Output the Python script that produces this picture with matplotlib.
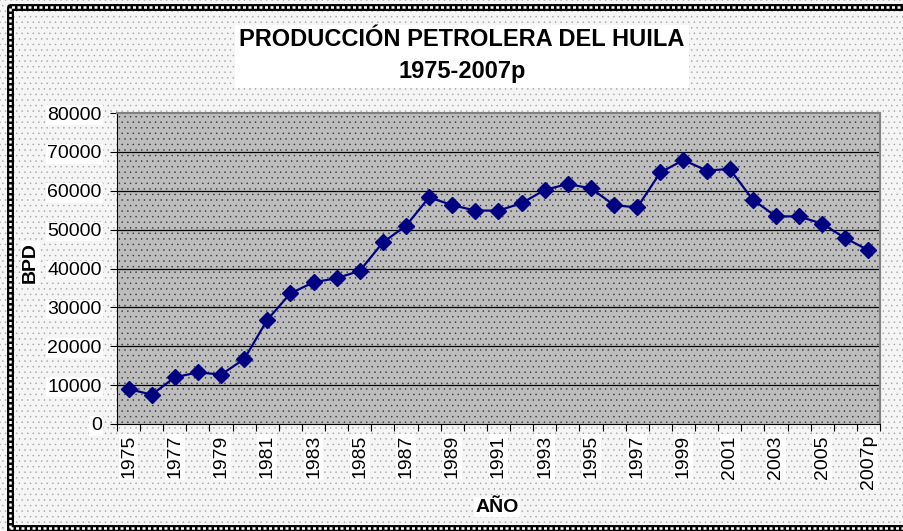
import numpy as np
import matplotlib
matplotlib.use('Agg')
import matplotlib.pyplot as plt
from matplotlib.patches import Rectangle
from matplotlib.lines import Line2D

plt.rcParams['font.family'] = ['Liberation Sans', 'DejaVu Sans']
plt.rcParams['hatch.linewidth'] = 0.3

# Datos: producción de petróleo del Huila (BPD)
anios = ['1975', '1976', '1977', '1978', '1979', '1980', '1981', '1982', '1983',
         '1984', '1985', '1986', '1987', '1988', '1989', '1990', '1991', '1992',
         '1993', '1994', '1995', '1996', '1997', '1998', '1999', '2000', '2001',
         '2002', '2003', '2004', '2005', '2006', '2007p']
bpd = [9000, 7550, 12000, 13300, 12700, 16700, 26800, 33600, 36450, 37500,
       39400, 46700, 51000, 58300, 56300, 54900, 54900, 56800, 60200, 61750,
       60600, 56300, 55700, 64700, 67900, 65200, 65600, 57700, 53400, 53400,
       51500, 47800, 44700]
y_ticks = [0, 10000, 20000, 30000, 40000, 50000, 60000, 70000, 80000]

W, H = 904, 531
fig = plt.figure(figsize=(W / 100, H / 100), dpi=100)
fig.patch.set_facecolor('#f5f5f5')
fig.patch.set_edgecolor('none')
fig.patch.set_linewidth(0)

# fondo punteado de la figura
fondo = Rectangle((0, 0), 1, 1, transform=fig.transFigure, facecolor='none',
                  edgecolor='#a0a0a0', hatch='...', linewidth=0, zorder=-10)
fig.patches.append(fondo)

ax = fig.add_axes([117 / W, 1 - 424 / H, (880 - 117) / W, (424 - 113) / H])
ax.set_facecolor('#bdbdbd')
ax.add_patch(Rectangle((0, 0), 1, 1, transform=ax.transAxes, facecolor='none',
                       edgecolor='#303030', hatch='...', linewidth=0, zorder=0))

x = np.arange(len(anios))
ax.plot(x, bpd, color='#000080', linewidth=1.6, marker='D', markersize=8,
        markerfacecolor='#000080', markeredgecolor='#000080', zorder=5)

ax.set_ylim(0, 80000)
ax.set_xlim(-0.5, len(anios) - 0.5)
ax.set_yticks(y_ticks)
ax.set_yticklabels([str(v) for v in y_ticks], fontsize=14)
for v in y_ticks[1:-1]:
    ax.axhline(v, color='black', linewidth=0.9, zorder=2)

# marcas entre categorías, etiquetas cada dos años
ax.set_xticks(np.arange(-0.5, len(anios), 1))
ax.set_xticklabels([])
ax.set_xticks(x[::2], minor=True)
ax.set_xticklabels(anios[::2], minor=True, rotation=90, fontsize=14)
ax.tick_params(axis='x', which='major', length=5, direction='out', color='black')
ax.tick_params(axis='x', which='minor', length=0, pad=8)
ax.tick_params(axis='y', length=5, direction='out', pad=6)

for lab in ax.get_yticklabels() + ax.get_xticklabels(minor=True):
    lab.set_bbox(dict(facecolor='white', edgecolor='none', pad=1))

for s in ['top', 'right']:
    ax.spines[s].set_color('#808080')
    ax.spines[s].set_linewidth(1.5)
ax.spines['left'].set_color('black')
ax.spines['bottom'].set_color('black')

ax.set_ylabel('BPD', fontsize=14, fontweight='bold',
              bbox=dict(facecolor='white', edgecolor='none', pad=1))
ax.yaxis.set_label_coords((39 - 117) / (880 - 117), (424 - 263) / (424 - 113))
fig.text(497 / W, 1 - 507 / H, 'AÑO', fontsize=14, fontweight='bold',
         ha='center', va='center',
         bbox=dict(facecolor='white', edgecolor='none', pad=1))

# título con recuadro blanco
fig.patches.append(Rectangle((235 / W, 1 - 88 / H), (689 - 235) / W, (88 - 25) / H,
                             transform=fig.transFigure, facecolor='white',
                             edgecolor='none', zorder=1))
fig.text(462 / W, 1 - 39 / H, 'PRODUCCIÓN PETROLERA DEL HUILA', fontsize=17,
         fontweight='bold', ha='center', va='center')
fig.text(462 / W, 1 - 71 / H, '1975-2007p', fontsize=17, fontweight='bold',
         ha='center', va='center')

# borde de la figura (sin lado derecho)
for lw, col, ls in [(5, 'black', '-'), (1.8, 'white', (0, (1.2, 1.0)))]:
    fig.lines.append(Line2D([9.5 / W, 9.5 / W, 1.01], [1 - 528 / H, 1 - 7 / H, 1 - 7 / H],
                            transform=fig.transFigure, color=col, linewidth=lw,
                            linestyle=ls))
    fig.lines.append(Line2D([9.5 / W, 1.01], [1 - 528 / H, 1 - 528 / H],
                            transform=fig.transFigure, color=col, linewidth=lw,
                            linestyle=ls))

fig.savefig('out.png', dpi=100, facecolor=fig.get_facecolor())
